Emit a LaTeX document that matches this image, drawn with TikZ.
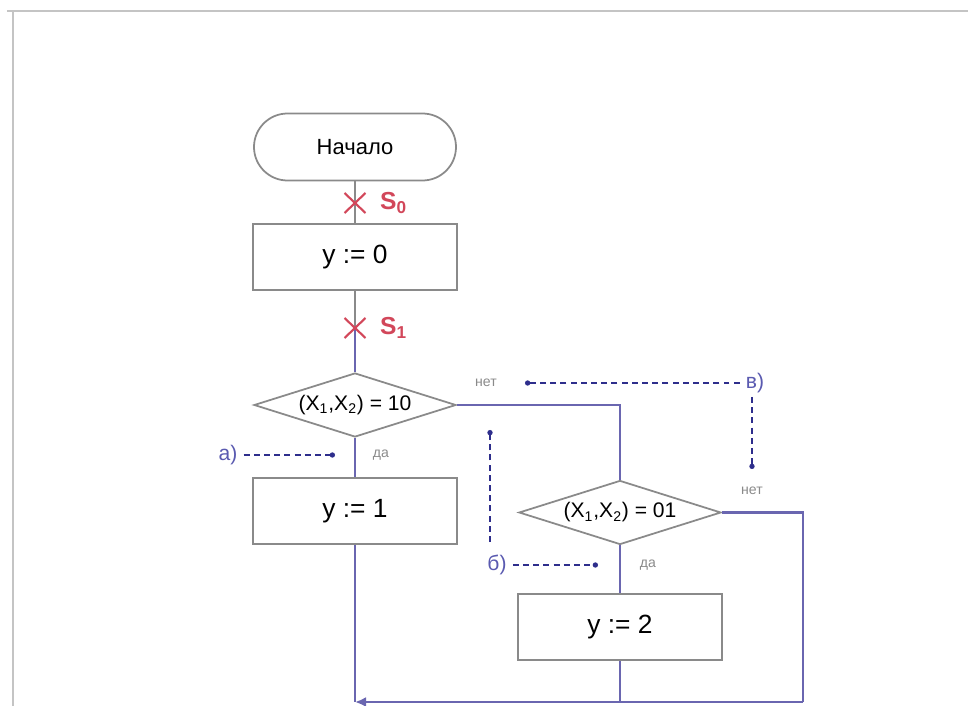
\documentclass[tikz,border=0pt]{standalone}
\usepackage{fontspec}
\setmainfont{Liberation Sans}
\usetikzlibrary{arrows.meta,shapes.geometric,calc}
\definecolor{shapegray}{HTML}{8A8A8A}
\definecolor{framegray}{HTML}{C4C4C4}
\definecolor{flowblue}{HTML}{6A66B0}
\definecolor{hintblue}{HTML}{2E2E8C}
\definecolor{labelblue}{HTML}{5A5AB0}
\definecolor{markred}{HTML}{D2475A}
\tikzset{
  term/.style={rectangle, rounded corners=6.7mm, draw=shapegray, line width=1pt,
               minimum width=4.04cm, minimum height=1.34cm, font=\fontsize{12.5}{14}\selectfont},
  opbox/.style={rectangle, draw=shapegray, line width=1pt,
                minimum width=4.08cm, minimum height=1.32cm, font=\fontsize{15}{17}\selectfont},
  cond/.style={diamond, aspect=3.15, draw=shapegray, line width=1pt, inner sep=0pt,
               minimum width=4.04cm, minimum height=1.28cm, font=\fontsize{12}{14}\selectfont},
  flow/.style={draw=flowblue, line width=1.5pt},
  feed/.style={draw=shapegray, line width=1.3pt},
  hint/.style={draw=hintblue, line width=0.7pt, dash pattern=on 3.4pt off 2.4pt,
               -{Circle[length=3pt]}},
  tag/.style={text=labelblue, font=\fontsize{12}{14}\selectfont},
  ans/.style={text=shapegray, font=\fontsize{8}{9}\selectfont},
  cross/.style={draw=markred, line width=1.2pt},
  slabel/.style={text=markred, anchor=west, font=\fontsize{14}{16}\selectfont\bfseries},
}
\newcommand{\cutmark}[1]{%
  \draw[cross] ($(#1)+(-0.21,0.2)$) -- ($(#1)+(0.21,-0.2)$)
               ($(#1)+(0.21,0.2)$) -- ($(#1)+(-0.21,-0.2)$);}
\newcommand{\xx}{(X\textsubscript{1},X\textsubscript{2})}

\begin{document}
\begin{tikzpicture}
  \useasboundingbox (0,0) rectangle (19.36,-14.12);
  % frame
  \draw[framegray, line width=0.8pt] (0.14,-0.22) -- (19.36,-0.22);
  \draw[framegray, line width=0.8pt] (0.26,-0.22) -- (0.26,-14.12);
  % blocks
  \node[term]  (start) at (7.10,-2.94)  {Начало};
  \node[opbox] (set0)  at (7.10,-5.14)  {y := 0};
  \node[cond]  (test1) at (7.10,-8.10)  {\xx{} = 10};
  \node[opbox] (set1)  at (7.10,-10.22) {y := 1};
  \node[cond]  (test2) at (12.40,-10.25) {\xx{} = 01};
  \node[opbox] (set2)  at (12.40,-12.54) {y := 2};
  % points on the lines
  \coordinate (s0) at (7.10,-4.06);
  \coordinate (s1) at (7.10,-6.56);
  \coordinate (turn1) at (test2 |- test1);
  \coordinate (endr) at (16.06,-14.04);
  \coordinate (endl) at (7.10,-14.04);
  % connectors
  \draw[feed] (start) -- (set0);
  \draw[feed] (set0.south) -- (s1);
  \draw[flow] (s1) -- (test1.north);
  \draw[flow] (test1) -- (set1);
  \draw[flow] (set1.south) -- (endl);
  \draw[flow] (test1.east) -- (turn1) -- (test2.north);
  \draw[flow] (test2) -- (set2);
  \draw[flow] (set2.south) -- (set2.south |- endl);
  \draw[flow] (test2.east) -| (endr);
  \draw[flow, -{Latex[length=2.2mm, width=2mm]}] (endr) -- (endl);
  % state marks
  \cutmark{s0}
  \cutmark{s1}
  \node[slabel] (l0) at (7.48,-4.06) {S\textsubscript{0}};
  \node[slabel] (l1) at (7.48,-6.56) {S\textsubscript{1}};
  % branch labels
  \node[ans] (yes1) at (7.62,-9.10)  {да};
  \node[ans] (no1)  at (9.72,-7.66)  {нет};
  \node[ans] (no2)  at (15.04,-9.82) {нет};
  \node[ans] (yes2) at (12.96,-11.30) {да};
  % hints
  \node[tag] (ha) at (4.56,-9.10)  {а)};
  \node[tag] (hb) at (9.94,-11.30) {б)};
  \node[tag] (hc) at (15.10,-7.66) {в)};
  \coordinate (ha1) at (6.70,-9.10);
  \coordinate (hb1) at (11.96,-11.30);
  \coordinate (hb2) at (9.80,-10.84);
  \coordinate (hb3) at (9.80,-8.60);
  \coordinate (hc1) at (10.50,-7.66);
  \coordinate (hc2) at (15.04,-7.94);
  \coordinate (hc3) at (15.04,-9.38);
  \draw[hint] (ha) -- (ha1);
  \draw[hint] (hb) -- (hb1);
  \draw[hint] (hb2) -- (hb3);
  \draw[hint] (hc) -- (hc1);
  \draw[hint] (hc2) -- (hc3);
\end{tikzpicture}
\end{document}
